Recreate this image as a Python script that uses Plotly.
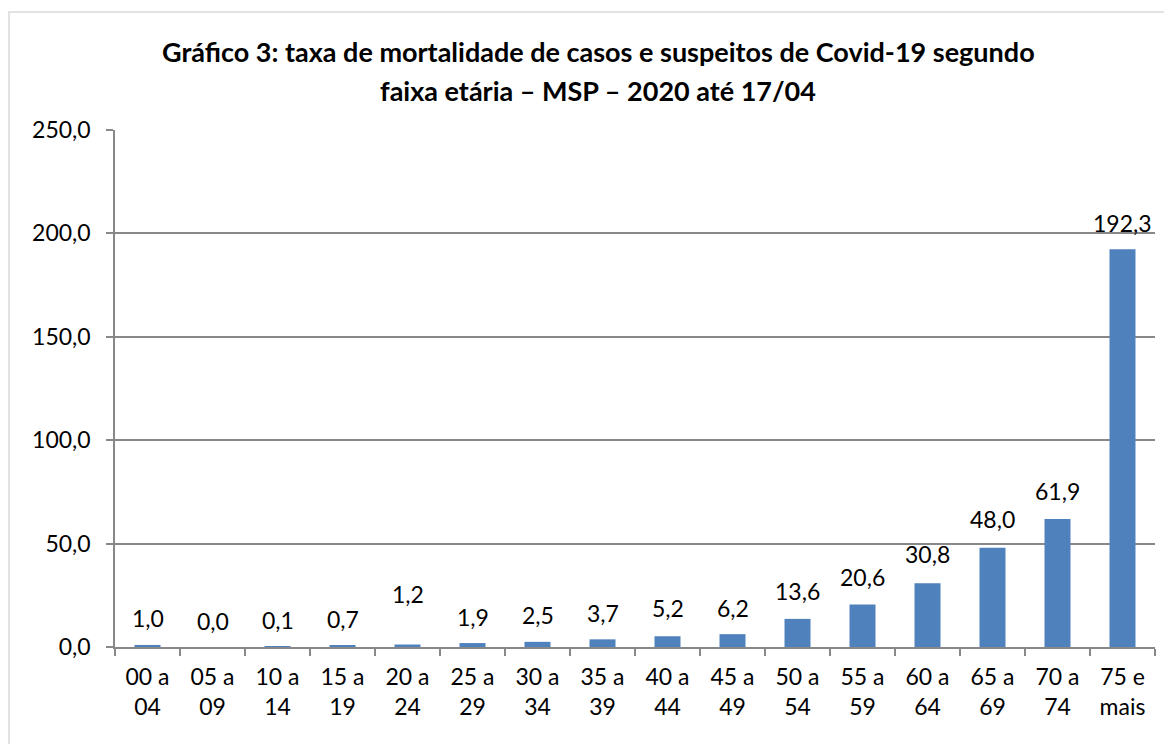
import plotly.graph_objects as go

categories = ["00 a<br>04", "05 a<br>09", "10 a<br>14", "15 a<br>19", "20 a<br>24",
              "25 a<br>29", "30 a<br>34", "35 a<br>39", "40 a<br>44", "45 a<br>49",
              "50 a<br>54", "55 a<br>59", "60 a<br>64", "65 a<br>69", "70 a<br>74",
              "75 e<br>mais"]
values = [1.0, 0.0, 0.1, 0.7, 1.2, 1.9, 2.5, 3.7, 5.2, 6.2, 13.6, 20.6, 30.8, 48.0, 61.9, 192.3]
label_shift = [27, 26, 27, 27, 51, 26, 27, 26, 28, 26, 28, 27, 29, 29, 28, 26]
title_lines = ["Gráfico 3: taxa de mortalidade de casos e suspeitos de Covid-19 segundo",
               "faixa etária – MSP – 2020 até 17/04"]

# page body has an 8px margin, so the figure is drawn at (8, 8)
W, H = 1164, 736
L, R, T, B = 107, 17, 122, 97
pw, ph = W - L - R, H - T - B

FONT = "Lato"
FS = 23
grid = "#888888"

fig = go.Figure(go.Bar(x=categories, y=values, width=0.4,
                       marker=dict(color="#4F81BD", line=dict(width=0))))

ann = []
for c, v, s in zip(categories, values, label_shift):
    ann.append(dict(x=c, y=v, xref="x", yref="y", text=f"{v:.1f}".replace(".", ","),
                    showarrow=False, yshift=s, yanchor="middle",
                    font=dict(family=FONT, size=FS, color="#000000")))
for i, (line, ypx) in enumerate(zip(title_lines, [44, 82])):
    ann.append(dict(x=(590 - L) / pw, y=(H - B - ypx) / ph, xref="paper", yref="paper",
                    text=f"<b>{line}</b>", showarrow=False, xanchor="center", yanchor="middle",
                    font=dict(family=FONT, size=27, color="#000000")))

fig.update_layout(
    width=W, height=H,
    margin=dict(l=L, r=R, t=T, b=B, autoexpand=False),
    paper_bgcolor="white", plot_bgcolor="white",
    separators=",.",
    showlegend=False,
    font=dict(family=FONT, size=FS, color="#000000"),
    annotations=ann,
    shapes=[dict(type="rect", xref="paper", yref="paper",
                 x0=(1 - L) / pw, x1=1.2, y0=-0.5, y1=(H - B - 4) / ph,
                 line=dict(color="#d9d9d9", width=1.5), fillcolor="rgba(0,0,0,0)", layer="below")],
    xaxis=dict(type="category", tickson="boundaries", ticks="outside", ticklen=7,
               tickcolor=grid, tickwidth=1.5, showline=True, linecolor=grid, linewidth=1.5,
               showgrid=False, tickfont=dict(family=FONT, size=FS), ticklabelstandoff=9,
               automargin=False),
    yaxis=dict(range=[0, 250], dtick=50, tickformat=".1f", ticks="outside", ticklen=7,
               tickcolor=grid, tickwidth=1.5, showline=True, linecolor=grid, linewidth=1.5,
               showgrid=True, gridcolor=grid, gridwidth=1.5, zeroline=False,
               tickfont=dict(family=FONT, size=FS), ticklabelstandoff=11,
               automargin=False),
)

fig.write_html("out.html")
